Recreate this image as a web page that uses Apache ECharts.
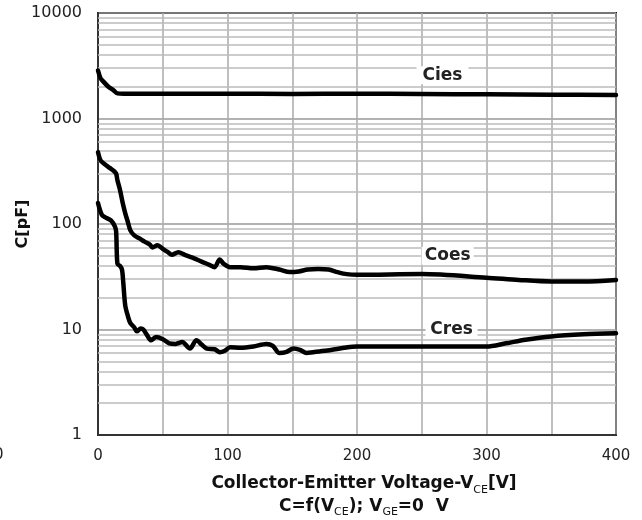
<!DOCTYPE html>
<html>
<head>
<meta charset="utf-8">
<script src="https://cdn.jsdelivr.net/npm/echarts@6/dist/echarts.min.js"></script>
<style>html,body{margin:0;padding:0;background:#fff}#c{width:642px;height:520px}</style>
</head>
<body>
<div id="c"></div>
<script>
const ciesV = [0, 2, 4, 8, 12, 15, 20, 50, 100, 150, 200, 250, 300, 350, 400];
const ciesC = [2850, 2400, 2250, 2000, 1850, 1730, 1720, 1720, 1715, 1710, 1720, 1705, 1695, 1680, 1670];

const coesV = [0, 2, 5, 9, 12, 14, 15, 17, 19, 21, 23, 25, 28, 32, 36, 40, 42, 46, 50, 54, 57, 62, 67, 73, 80, 86, 90, 94, 97, 102, 110, 120, 130, 140, 148, 155, 162, 170, 178, 185, 192, 200, 250, 300, 325, 350, 375, 400];
const coesC = [480, 400, 370, 340, 320, 300, 260, 210, 160, 127, 105, 87, 78, 73, 68, 64, 60, 63, 58, 54, 51, 54, 51, 48, 44, 41, 39, 46, 42, 39, 39, 38, 39, 37, 35, 35.5, 37, 37.5, 37, 35, 33.5, 33, 33.5, 31, 29.5, 28.5, 28.5, 29.5];

const cresV = [0, 3, 6, 10, 13, 14, 15, 17, 18.5, 19.5, 21, 23, 25, 28, 30, 33, 35, 38, 41, 45, 50, 55, 60, 65, 71, 76, 80, 84, 90, 94, 98, 102, 110, 120, 130, 135, 140, 145, 151, 156, 161, 166, 171, 180, 190, 200, 250, 300, 315, 330, 350, 375, 400];
const cresC = [158, 122, 115, 108, 95, 85, 42, 40, 37, 28, 17, 13.5, 11.5, 10.5, 9.6, 10.2, 10, 8.8, 7.9, 8.5, 8.1, 7.4, 7.3, 7.6, 6.6, 7.9, 7.2, 6.6, 6.5, 6.1, 6.3, 6.8, 6.7, 6.9, 7.3, 7, 6.0, 6.1, 6.6, 6.4, 6.0, 6.1, 6.2, 6.4, 6.7, 6.9, 6.9, 6.9, 7.4, 8.0, 8.6, 9.0, 9.2];

const curveNames = ['Cies', 'Coes', 'Cres'];
const labelV = [266, 270, 273];
const labelC = [2570, 50, 10];

const xTickLabels = [0, 100, 200, 300, 400];
const yTickLabels = [1, 10, 100, 1000, 10000];
const minorGrid = [2,3,4,5,6,7,8,9,20,30,40,50,60,70,80,90,200,300,400,500,600,700,800,900,2000,3000,4000,5000,6000,7000,8000,9000];

const pairs = (xs, ys) => xs.map((x, i) => [x, ys[i]]);
const font = '"DejaVu Sans", sans-serif';

const chart = echarts.init(document.getElementById('c'));
const curveStyle = { color: '#000', width: 4.5, cap: 'round', join: 'round' };
const seriesData = [pairs(ciesV, ciesC), pairs(coesV, coesC), pairs(cresV, cresC)];

chart.setOption({
  animation: false,
  backgroundColor: '#fff',
  grid: { left: 98, right: 26, top: 13, bottom: 85, show: true, borderColor: '#111', borderWidth: 2, containLabel: false, outerBoundsMode: 'none' },
  xAxis: {
    type: 'value', min: 0, max: 400, interval: 50,
    axisLine: { show: true, lineStyle: { color: '#333', width: 2 } },
    axisTick: { show: false },
    splitLine: { show: true, lineStyle: { color: '#aaa', width: 1.5 } },
    axisLabel: {
      margin: 14, color: '#222', fontFamily: font, fontSize: 15,
      formatter: v => xTickLabels.includes(v) ? String(v) : ''
    },
    name: '{b|Collector-Emitter Voltage-V}{s|CE}{b|[V]}\n{c|C=f(V}{s2|CE}{c|); V}{s2|GE}{c|=0  V}',
    nameLocation: 'middle', nameGap: 37,
    nameTextStyle: {
      padding: [0, 0, 0, 14],
      rich: {
        b: { fontFamily: font, fontWeight: 'bold', fontSize: 17, color: '#111', lineHeight: 24 },
        s: { fontFamily: font, fontWeight: 'normal', fontSize: 11, color: '#111', verticalAlign: 'bottom', lineHeight: 18 },
        c: { fontFamily: font, fontWeight: 'bold', fontSize: 17, color: '#111', lineHeight: 22 },
        s2: { fontFamily: font, fontWeight: 'normal', fontSize: 11, color: '#111', verticalAlign: 'bottom', lineHeight: 16 }
      }
    }
  },
  yAxis: {
    type: 'log', logBase: 10, min: 1, max: 10000,
    axisLine: { show: true, lineStyle: { color: '#333', width: 2 } },
    axisTick: { show: false },
    splitLine: { show: true, lineStyle: { color: '#999', width: 1.5 } },
    axisLabel: {
      margin: 16, color: '#222', fontFamily: font, fontSize: 16,
      formatter: v => yTickLabels.includes(Math.round(v)) ? String(Math.round(v)) : ''
    }
  },
  graphic: [
    { type: 'text', left: -6, top: 448, style: { text: '0', font: '15px ' + font, fill: '#222' } },
    { type: 'text', x: 23, y: 224, rotation: Math.PI / 2,
      style: { text: 'C[pF]', x: 0, y: 0, align: 'center', verticalAlign: 'middle', font: 'bold 16px ' + font, fill: '#111' } }
  ],
  series: [
    {
      type: 'line', data: [], silent: true, z: 1,
      markLine: {
        silent: true, symbol: 'none', animation: false, z: 1,
        label: { show: false },
        lineStyle: { color: '#bbb', width: 1.5, type: 'solid' },
        data: minorGrid.map(v => ({ yAxis: v }))
      }
    },
    ...seriesData.map((d, i) => ({
      type: 'line', name: curveNames[i], data: d, showSymbol: false, smooth: 0.3, z: 3,
      lineStyle: curveStyle,
      markPoint: {
        symbol: 'rect', symbolSize: [52, 18], z: 6,
        itemStyle: { color: '#fff' },
        label: { show: true, position: 'inside', formatter: curveNames[i], fontFamily: font, fontWeight: 'bold', fontSize: 17, color: '#222' },
        data: [{ coord: [labelV[i], labelC[i]] }]
      }
    }))
  ]
});
</script>
</body>
</html>
